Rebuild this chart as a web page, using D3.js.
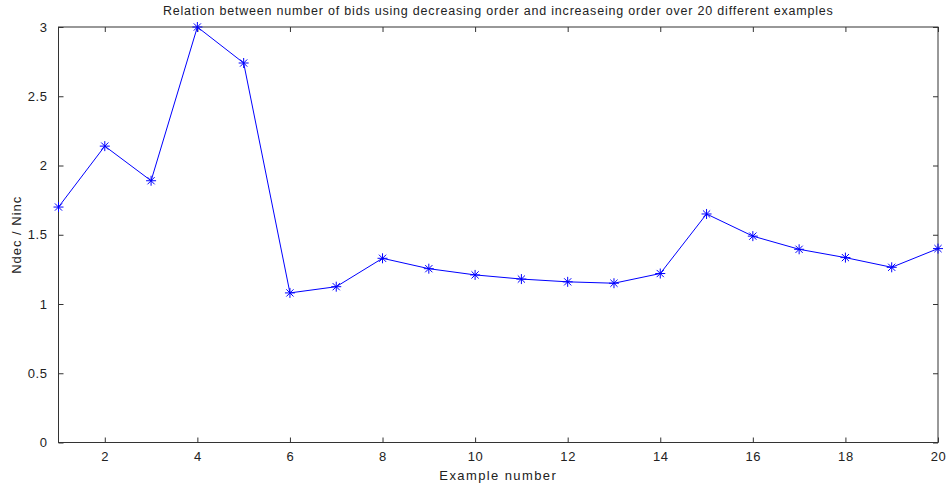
<!DOCTYPE html>
<html>
<head>
<meta charset="utf-8">
<script src="https://cdn.jsdelivr.net/npm/d3@7"></script>
<style>
  body { margin: 0; background: #fff; }
  text { font-family: "Liberation Sans", Arial, sans-serif; fill: #222; }
</style>
</head>
<body>
<script>
// example number and ratio Ndec / Ninc
const examples = d3.range(1, 21);
const ratios = [1.70, 2.14, 1.89, 3.00, 2.74, 1.08, 1.125, 1.33, 1.255, 1.21,
                1.18, 1.16, 1.15, 1.22, 1.65, 1.49, 1.395, 1.335, 1.265, 1.40];
const xTicks = [2, 4, 6, 8, 10, 12, 14, 16, 18, 20];
const yTicks = [0, 0.5, 1, 1.5, 2, 2.5, 3];

const width = 951, height = 486;
const margin = { top: 27, right: 13, bottom: 43.5, left: 58.5 };
const w = width - margin.left - margin.right;
const h = height - margin.top - margin.bottom;

const svg = d3.select("body").append("svg")
    .attr("width", width).attr("height", height);

const g = svg.append("g").attr("transform", `translate(${margin.left},${margin.top})`);

const x = d3.scaleLinear().domain([1, 20]).range([0, w]);
const y = d3.scaleLinear().domain([0, 3]).range([h, 0]);

const axisColor = "#333";

// box
g.append("rect").attr("width", w).attr("height", h)
    .attr("fill", "none").attr("stroke", axisColor).attr("stroke-width", 1);

// inward ticks on all four sides
const tl = 5;
g.append("g").attr("transform", `translate(0,${h})`)
    .call(d3.axisBottom(x).tickValues(xTicks).tickSizeInner(-tl).tickSizeOuter(0).tickPadding(9))
    .call(a => a.select(".domain").remove());
g.append("g")
    .call(d3.axisTop(x).tickValues(xTicks).tickSizeInner(-tl).tickSizeOuter(0).tickFormat(""))
    .call(a => a.select(".domain").remove());
g.append("g")
    .call(d3.axisLeft(y).tickValues(yTicks).tickSizeInner(-tl).tickSizeOuter(0).tickPadding(11)
        .tickFormat(d3.format("~g")))
    .call(a => a.select(".domain").remove());
g.append("g").attr("transform", `translate(${w},0)`)
    .call(d3.axisRight(y).tickValues(yTicks).tickSizeInner(-tl).tickSizeOuter(0).tickFormat(""))
    .call(a => a.select(".domain").remove());

g.selectAll(".tick line").attr("stroke", axisColor);
g.selectAll(".tick text").attr("font-size", 13).attr("fill", "#222")
    .style("font-family", "'Liberation Sans', Arial, sans-serif")
    .style("letter-spacing", "0.6px");

// line
const data = examples.map((d, i) => ({ x: d, y: ratios[i] }));
g.append("path").datum(data)
    .attr("fill", "none").attr("stroke", "#0000ff").attr("stroke-width", 1)
    .attr("d", d3.line().x(d => x(d.x)).y(d => y(d.y)));

// asterisk markers
const s = 5, sd = 3.6;
const star = `M${-s},0L${s},0M0,${-s}L0,${s}M${-sd},${-sd}L${sd},${sd}M${-sd},${sd}L${sd},${-sd}`;
g.selectAll(".mk").data(data).enter().append("path")
    .attr("class", "mk")
    .attr("transform", d => `translate(${x(d.x)},${y(d.y)})`)
    .attr("d", star)
    .attr("fill", "none").attr("stroke", "#0000ff").attr("stroke-width", 1);

// labels
svg.append("text").attr("x", margin.left + w / 2).attr("y", 15)
    .attr("text-anchor", "middle").attr("font-size", 12.5)
    .style("letter-spacing", "0.8px")
    .text("Relation between number of bids using decreasing order and increaseing order over 20 different examples");
svg.append("text").attr("x", margin.left + w / 2).attr("y", 480)
    .attr("text-anchor", "middle").attr("font-size", 13)
    .style("letter-spacing", "1.4px")
    .text("Example number");
svg.append("text").attr("transform", `translate(21,${margin.top + h / 2}) rotate(-90)`)
    .attr("text-anchor", "middle").attr("font-size", 13)
    .style("letter-spacing", "1px")
    .text("Ndec / Ninc");
</script>
</body>
</html>
